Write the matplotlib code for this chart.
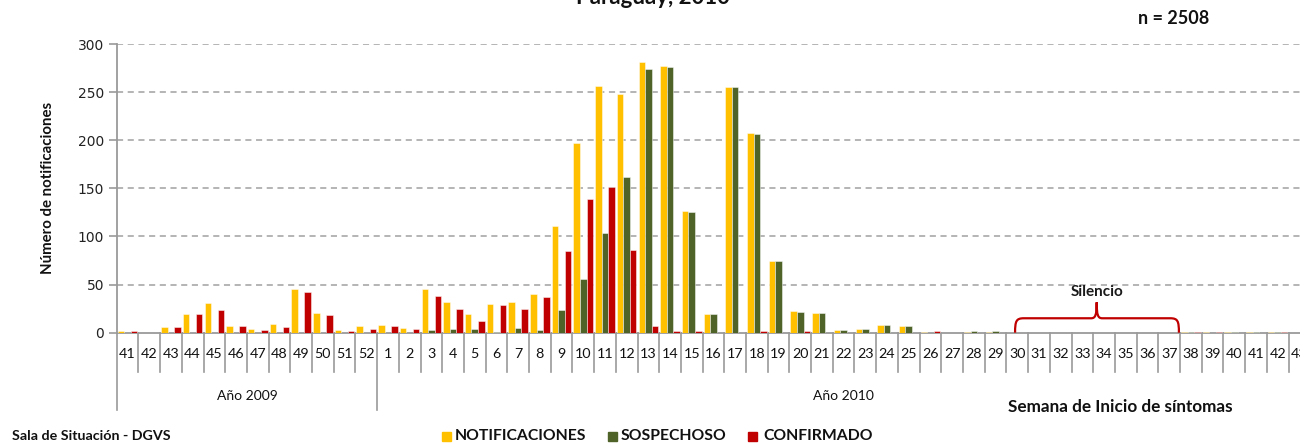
import matplotlib
matplotlib.use("Agg")
import matplotlib.pyplot as plt
import numpy as np
from matplotlib.path import Path
from matplotlib.patches import PathPatch, Rectangle

# ---------------- data ----------------
weeks_2009 = [str(w) for w in range(41, 53)]
weeks_2010 = [str(w) for w in range(1, 44)]
week_labels = weeks_2009 + weeks_2010
year_labels = ["Año 2009", "Año 2010"]

notificaciones = [2, 0, 6, 19, 31, 7, 4, 9, 45, 20, 3, 7,
                  8, 5, 45, 32, 19, 30, 32, 40, 111, 197, 256, 248, 281, 277, 126, 19,
                  255, 207, 75, 23, 20, 3, 4, 8, 7, 1, 0, 1, 1,
                  0, 0, 0, 0, 0, 0, 0, 0, 1, 1, 1, 1, 1, 0]
sospechoso = [0, 0, 0, 0, 0, 0, 0, 0, 0, 0, 0, 0,
              0, 0, 3, 4, 4, 1, 5, 3, 24, 56, 104, 162, 274, 276, 125, 19,
              255, 206, 75, 22, 20, 3, 4, 8, 7, 0, 0, 2, 2,
              0, 0, 0, 0, 0, 0, 0, 0, 1, 0, 1, 1, 1, 0]
confirmado = [2, 0, 6, 19, 24, 7, 3, 6, 42, 18, 2, 4,
              7, 4, 38, 25, 12, 29, 25, 37, 85, 139, 151, 86, 7, 2, 2, 0,
              0, 2, 0, 2, 0, 0, 0, 0, 0, 2, 0, 0, 0,
              0, 0, 0, 0, 0, 0, 0, 0, 1, 1, 0, 0, 1, 0]

series_names = ["NOTIFICACIONES", "SOSPECHOSO", "CONFIRMADO"]
series_colors = ["#FFC000", "#4F6228", "#C00000"]
y_ticks = [0, 50, 100, 150, 200, 250, 300]

# ---------------- figure ----------------
W, H = 1300, 443
fig = plt.figure(figsize=(W / 100, H / 100), dpi=100)
ax_left, ax_right = 116.7, 1310.2
ax_top, ax_bot = 44.0, 332.7
ax = fig.add_axes([ax_left / W, 1 - ax_bot / H, (ax_right - ax_left) / W, (ax_bot - ax_top) / H])

n = len(week_labels)
x = np.arange(n)
bw = 0.3
data = [notificaciones, sospechoso, confirmado]
for k, (vals, col) in enumerate(zip(data, series_colors)):
    ax.bar(x + (k - 1) * bw, vals, width=bw, color=col,
           edgecolor=(1, 1, 1, 0.55), linewidth=0.6, zorder=3)

ax.set_xlim(-0.5, n - 0.5)
ax.set_ylim(0, 300)
ax.set_yticks(y_ticks)
ax.set_yticklabels([str(v) for v in y_ticks], fontsize=10, color="#222222",
                   family="DejaVu Sans")
ax.tick_params(axis="y", length=6, width=1.2, color="#9a9a9a", pad=3, direction="out")
ax.set_xticks([])
for v in y_ticks[1:]:
    ax.axhline(v, color="#a0a0a0", lw=1.1, ls=(0, (4, 3)), zorder=1)

for s in ["top", "right"]:
    ax.spines[s].set_visible(False)
for s in ["left", "bottom"]:
    ax.spines[s].set_color("#9a9a9a")
    ax.spines[s].set_linewidth(1.3)

axh = ax_bot - ax_top
tr = ax.get_xaxis_transform()
tick_len = (371.7 - ax_bot) / axh
year_len = (410.0 - ax_bot) / axh
for i in range(n + 1):
    xe = i - 0.5
    L = year_len if i in (0, len(weeks_2009)) else tick_len
    ax.plot([xe, xe], [0, -L], transform=tr, color="#9a9a9a", lw=1.2, clip_on=False)

lab_font = ["Lato", "DejaVu Sans"]
for i, lab in enumerate(week_labels):
    ax.text(i, -(354.5 - ax_bot) / axh, lab, transform=tr, ha="center", va="center",
            fontsize=10.3, family=lab_font, color="#111111")

n09 = len(weeks_2009)
ax.text((n09 - 1) / 2, -(396.5 - ax_bot) / axh, year_labels[0], transform=tr,
        ha="center", va="center", fontsize=10, family=lab_font, color="#111111")
ax.text((n09 + n - 1) / 2, -(396.5 - ax_bot) / axh, year_labels[1], transform=tr,
        ha="center", va="center", fontsize=10, family=lab_font, color="#111111")

# Silencio brace
verts = [(40.90, 0), (40.90, 12), (40.95, 15), (41.30, 15),
         (44.40, 15),
         (44.60, 15), (44.66, 18), (44.66, 31.6),
         (44.66, 18), (44.72, 15), (44.92, 15),
         (48.05, 15),
         (48.40, 15), (48.45, 12), (48.45, 0)]
codes = [Path.MOVETO, Path.CURVE4, Path.CURVE4, Path.CURVE4,
         Path.LINETO,
         Path.CURVE4, Path.CURVE4, Path.CURVE4,
         Path.CURVE4, Path.CURVE4, Path.CURVE4,
         Path.LINETO,
         Path.CURVE4, Path.CURVE4, Path.CURVE4]
ax.add_patch(PathPatch(Path(verts, codes), fill=False, edgecolor="#C00000", lw=1.6,
                       zorder=4, clip_on=False))
ax.text(44.66, 42, "Silencio", ha="center", va="center", fontsize=11,
        fontweight="bold", family=lab_font, color="#1a1a1a")

# y label
fig.text(48 / W, 1 - 188 / H, "Número de notificaciones", rotation=90, ha="center",
         va="center", fontsize=10.8, fontweight="bold", family=lab_font, color="#111111")

# title (partially cut) and n
fig.text(653 / W, 1 - 4.5 / H, "Paraguay, 2010", ha="center", va="baseline",
         fontsize=16, fontweight="bold", family=lab_font, color="#111111")
fig.text(1174 / W, 1 - 19 / H, "n = 2508", ha="center", va="center",
         fontsize=13, fontweight="bold", family=lab_font, color="#111111")

fig.text(1120 / W, 1 - 407.5 / H, "Semana de Inicio de síntomas", ha="center", va="center",
         fontsize=12.3, fontweight="bold", family=lab_font, color="#111111")
fig.text(12 / W, 1 - 436 / H, "Sala de Situación - DGVS", ha="left", va="center",
         fontsize=10.3, fontweight="bold", family=lab_font, color="#111111")

# legend
leg_sq_x = [441.7, 607.5, 748.0]
leg_txt_x = [455.0, 620.5, 763.0]
leg_y = 436.0
for name, col, sx, tx in zip(series_names, series_colors, leg_sq_x, leg_txt_x):
    fig.patches.append(Rectangle((sx / W, 1 - (leg_y + 4.5) / H), 9 / W, 9 / H,
                                 transform=fig.transFigure, color=col))
    fig.text(tx / W, 1 - leg_y / H, name, ha="left", va="center", fontsize=11.3,
             fontweight="bold", family=lab_font, color="#111111")

fig.savefig("out.png", dpi=100)
